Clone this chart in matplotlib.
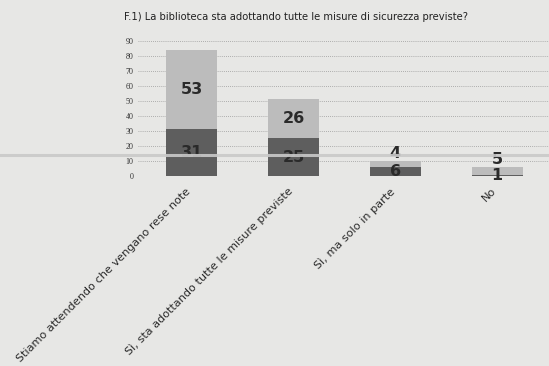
import matplotlib
matplotlib.use("Agg")
import matplotlib.pyplot as plt
from matplotlib.lines import Line2D
from matplotlib.transforms import ScaledTranslation

title = "F.1) La biblioteca sta adottando tutte le misure di sicurezza previste?"
categories = [
    "Stiamo attendendo che vengano rese note",
    "Sì, sta adottando tutte le misure previste",
    "Sì, ma solo in parte",
    "No",
]
bottom_values = [31, 25, 6, 1]
top_values = [53, 26, 4, 5]
y_ticks = [0, 10, 20, 30, 40, 50, 60, 70, 80, 90]

bg = "#e7e7e5"
fig = plt.figure(figsize=(5.49, 3.66), dpi=100, facecolor=bg)
ax = fig.add_axes([0.251, 0.519, 0.749, 0.378], facecolor=bg)

x = list(range(len(categories)))
ax.bar(x, bottom_values, width=0.5, color="#5e5e5e", zorder=2)
ax.bar(x, top_values, width=0.5, bottom=bottom_values, color="#bcbcbc", zorder=2)

lab_kw = dict(ha="center", fontsize=11.5, fontweight="bold", color="#2a2a2a", zorder=3)
for xi, b, t in zip(x, bottom_values, top_values):
    ax.text(xi, b / 2, str(b), va="center", **lab_kw)
    if t >= 8:
        ax.text(xi, b + t / 2, str(t), va="center", **lab_kw)
    else:
        ax.text(xi, b + t + 0.3, str(t), va="bottom", **lab_kw)

ax.set_xlim(-0.531, 3.51)
ax.set_ylim(0, 92)
ax.set_yticks(y_ticks)
ax.set_yticklabels([str(v) for v in y_ticks], fontsize=5.8, color="#333333",
                   family="Liberation Serif")
ax.set_xticks(x)
ax.set_xticklabels([])
ax.tick_params(axis="both", length=0, pad=3)

# rotated category names hanging below each bar
offset = ScaledTranslation(-6 / 100, -10 / 100, fig.dpi_scale_trans)
for xi, name in zip(x, categories):
    ax.text(xi, 0, name, rotation=45, ha="right", va="top",
            rotation_mode="anchor", fontsize=8.1, color="#2a2a2a",
            transform=ax.get_xaxis_transform() + offset, clip_on=False)

ax.grid(axis="y", linestyle=(0, (1, 1.5)), color="#9a9a9a", linewidth=0.6, zorder=1)
for s in ax.spines.values():
    s.set_visible(False)

fig.text(124 / 549, 1 - 17 / 366, title, fontsize=7.2, color="#222222",
         ha="left", va="center")

# light horizontal streak across the sheet
fig.add_artist(Line2D([0, 1], [1 - 155 / 366] * 2, color="#c9c9c9",
                      linewidth=2.2, alpha=0.9, zorder=5))

fig.savefig("out.png", dpi=100, facecolor=bg)
